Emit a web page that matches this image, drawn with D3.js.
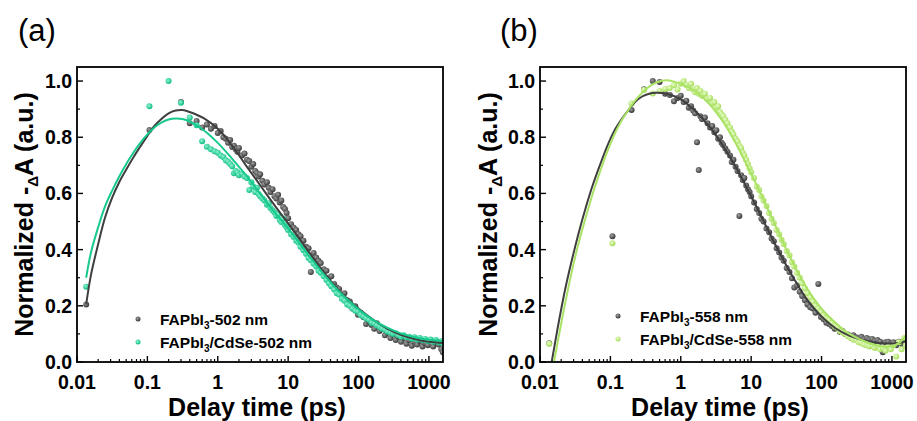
<!DOCTYPE html>
<html>
<head>
<meta charset="utf-8">
<script src="https://cdn.jsdelivr.net/npm/d3@7"></script>
<style>
  body { margin: 0; background: #fff; }
  svg { display: block; font-family: "Liberation Sans", Arial, sans-serif; }
</style>
</head>
<body>
<svg id="chart" width="917" height="421"></svg>
<script>
// ---- measured delays (ps), shared by both series of a panel ----
const times = [0.0135, 0.107, 0.2, 0.3, 0.4, 0.5, 0.6, 0.7, 0.8, 0.9,
  1.0, 1.1, 1.2, 1.3, 1.4, 1.5, 1.6, 1.7, 1.8, 1.9,
  2.0, 2.2, 2.4, 2.6, 2.8, 3.0, 3.2, 3.4, 3.6, 3.8,
  4.0, 4.3, 4.6, 5.0, 5.3, 5.6, 6.0, 6.4, 6.8, 7.2,
  7.6, 8.0, 8.5, 9.0, 9.5, 10, 11, 12, 13, 14,
  15, 16.5, 18, 19.5, 21, 23, 25, 27, 29, 32,
  35, 38, 41, 45, 49, 53, 58, 63, 69, 75,
  82, 90, 98, 107, 117, 128, 140, 153, 167, 182,
  199, 217, 237, 259, 283, 309, 337, 368, 402, 439,
  479, 523, 571, 623, 680, 742, 810, 884, 965, 1053,
  1150, 1255, 1370, 1500, 1580];

// panel (a) 502 nm
const grayA = [0.205, 0.826, null, 0.925, 0.85, 0.858, 0.835, 0.845, 0.83, 0.84,
  0.815, 0.822, 0.80, 0.795, 0.78, 0.79, 0.765, 0.77, 0.757, 0.748,
  0.762, 0.735, 0.742, 0.72, 0.715, 0.695, 0.705, 0.68, 0.672, 0.66,
  0.668, 0.645, 0.632, 0.64, 0.62, 0.605, 0.615, 0.59, 0.582, 0.595,
  0.568, 0.575, 0.552, 0.545, 0.53, 0.512, 0.49, 0.478, 0.47, 0.455,
  0.448, 0.432, 0.41, 0.405, 0.32, 0.388, 0.372, 0.36, 0.352, 0.33,
  0.325, 0.30, 0.305, 0.278, 0.265, 0.26, 0.235, 0.245, 0.22, 0.215,
  0.19, 0.198, 0.168, 0.175, 0.16, 0.135, 0.145, 0.132, 0.118, 0.138,
  0.11, 0.118, 0.095, 0.105, 0.085, 0.098, 0.078, 0.09, 0.072, 0.085,
  0.065, 0.078, 0.058, 0.072, 0.062, 0.075, 0.055, 0.068, 0.06, 0.078,
  0.055, 0.07, 0.062, 0.045, 0.035];
const greenA = [0.268, 0.91, 1.0, 0.923, 0.87, 0.843, 0.786, 0.766, 0.757, 0.75,
  0.745, 0.735, 0.73, 0.718, 0.713, 0.705, 0.697, 0.672, 0.68, 0.675,
  0.665, 0.67, 0.66, 0.655, 0.612, 0.64, 0.625, 0.605, 0.62, 0.598,
  0.59, 0.582, 0.575, 0.56, 0.565, 0.548, 0.54, 0.532, 0.52, 0.525,
  0.505, 0.498, 0.51, 0.488, 0.48, 0.47, 0.455, 0.445, 0.432, 0.425,
  0.41, 0.398, 0.385, 0.37, 0.362, 0.35, 0.34, 0.325, 0.318, 0.305,
  0.292, 0.28, 0.27, 0.258, 0.245, 0.24, 0.225, 0.218, 0.205, 0.20,
  0.19, 0.182, 0.18, 0.168, 0.162, 0.155, 0.15, 0.14, 0.137, 0.13,
  0.125, 0.118, 0.115, 0.108, 0.105, 0.10, 0.102, 0.095, 0.09, 0.095,
  0.088, 0.09, 0.083, 0.088, 0.08, 0.085, 0.078, 0.082, 0.075, 0.08,
  0.072, 0.078, 0.07, 0.074, 0.066];

// panel (b) 558 nm
const grayB = [0.067, 0.448, 0.897, 0.971, 1.0, 0.997, 0.955, 0.95, 0.928, 0.94,
  0.948, 0.925, 0.93, 0.905, 0.91, 0.895, 0.885, 0.782, 0.683, 0.875,
  0.865, 0.87, 0.85, 0.835, 0.84, 0.818, 0.825, 0.795, 0.80, 0.78,
  0.772, 0.76, 0.748, 0.735, 0.712, 0.72, 0.695, 0.68, 0.52, 0.665,
  0.648, 0.655, 0.628, 0.615, 0.605, 0.59, 0.568, 0.545, 0.53, 0.51,
  0.50, 0.475, 0.462, 0.44, 0.43, 0.405, 0.39, 0.372, 0.36, 0.335,
  0.32, 0.298, 0.265, 0.272, 0.25, 0.235, 0.22, 0.205, 0.195, 0.19,
  0.175, 0.278, 0.16, 0.152, 0.14, 0.135, 0.128, 0.118, 0.12, 0.108,
  0.11, 0.10, 0.098, 0.092, 0.095, 0.088, 0.085, 0.09, 0.082, 0.085,
  0.08, 0.082, 0.075, 0.078, 0.072, 0.035, 0.07, 0.072, 0.065, 0.07,
  0.06, 0.072, 0.065, 0.075, 0.068];
const limeB = [0.065, 0.423, 0.92, 0.968, 0.956, 0.965, 0.972, 0.975, 0.985, 0.97,
  0.99, 1.0, 0.985, 0.975, 0.99, 0.97, 0.96, 0.975, 0.955, 0.965,
  0.948, 0.955, 0.935, 0.94, 0.92, 0.925, 0.905, 0.91, 0.89, 0.882,
  0.875, 0.862, 0.85, 0.835, 0.82, 0.81, 0.795, 0.785, 0.77, 0.762,
  0.745, 0.735, 0.72, 0.705, 0.69, 0.675, 0.655, 0.625, 0.612, 0.59,
  0.575, 0.555, 0.53, 0.51, 0.495, 0.47, 0.455, 0.435, 0.42, 0.395,
  0.38, 0.355, 0.34, 0.318, 0.30, 0.28, 0.262, 0.245, 0.23, 0.215,
  0.20, 0.19, 0.178, 0.165, 0.155, 0.15, 0.138, 0.128, 0.122, 0.11,
  0.105, 0.10, 0.092, 0.085, 0.08, 0.078, 0.07, 0.068, 0.062, 0.06,
  0.055, 0.058, 0.05, 0.055, 0.045, 0.05, 0.04, 0.055, 0.045, 0.06,
  0.02, 0.07, 0.045, 0.085, 0.06];

// ---- fitted curves ----
const fitTimesA = [0.0135, 0.0158, 0.02, 0.0251, 0.0316, 0.0398, 0.0501, 0.0631, 0.0794, 0.1,
  0.126, 0.158, 0.2, 0.251, 0.316, 0.398, 0.631, 1, 1.58, 2.51,
  3.98, 6.31, 10, 15.8, 25.1, 39.8, 63.1, 100, 158, 251,
  398, 631, 1000, 1585];
const fitGrayA = [0.205, 0.31, 0.42, 0.515, 0.585, 0.64, 0.685, 0.728, 0.767, 0.805,
  0.84, 0.865, 0.885, 0.895, 0.897, 0.89, 0.868, 0.83, 0.772, 0.70,
  0.63, 0.56, 0.493, 0.425, 0.355, 0.29, 0.235, 0.19, 0.152, 0.12,
  0.097, 0.082, 0.072, 0.068];
const fitGreenA = [0.30, 0.39, 0.48, 0.555, 0.61, 0.66, 0.705, 0.745, 0.78, 0.81,
  0.835, 0.852, 0.863, 0.867, 0.865, 0.856, 0.825, 0.78, 0.725, 0.665,
  0.60, 0.535, 0.475, 0.41, 0.345, 0.285, 0.232, 0.188, 0.152, 0.123,
  0.102, 0.088, 0.079, 0.075];

const fitTimesGrayB = [0.01466, 0.0178, 0.0224, 0.0282, 0.0355, 0.0447, 0.0562, 0.0708, 0.0891, 0.112,
  0.141, 0.178, 0.224, 0.282, 0.355, 0.447, 0.631, 1, 1.58, 2.51,
  3.98, 6.31, 10, 15.8, 25.1, 39.8, 63.1, 100, 158, 251,
  398, 631, 1000, 1259, 1585];
const fitGrayB = [0, 0.12, 0.25, 0.36, 0.46, 0.55, 0.63, 0.70, 0.765, 0.82,
  0.86, 0.895, 0.925, 0.945, 0.955, 0.958, 0.955, 0.935, 0.895, 0.84,
  0.77, 0.685, 0.59, 0.49, 0.39, 0.30, 0.22, 0.162, 0.12, 0.093,
  0.077, 0.068, 0.066, 0.068, 0.075];
const fitTimesLimeB = [0.0158, 0.0178, 0.0224, 0.0282, 0.0355, 0.0447, 0.0562, 0.0708, 0.0891, 0.112,
  0.141, 0.178, 0.224, 0.282, 0.355, 0.447, 0.631, 1, 1.58, 2.51,
  3.98, 6.31, 10, 15.8, 25.1, 39.8, 63.1, 100, 158, 251,
  398, 631, 1000, 1259, 1585];
const fitLimeB = [0, 0.07, 0.20, 0.32, 0.425, 0.515, 0.60, 0.675, 0.745, 0.805,
  0.855, 0.895, 0.93, 0.958, 0.98, 0.995, 1.003, 0.99, 0.965, 0.92,
  0.855, 0.77, 0.67, 0.565, 0.455, 0.35, 0.26, 0.19, 0.14, 0.10,
  0.075, 0.058, 0.056, 0.068, 0.095];

const xTicks = [0.01, 0.1, 1, 10, 100, 1000];
const xTickLabels = ["0.01", "0.1", "1", "10", "100", "1000"];
const yTicks = [0, 0.2, 0.4, 0.6, 0.8, 1.0];

const svg = d3.select('#chart');
const defs = svg.append('defs');

// shaded "ball" markers like the Origin sphere symbol
function ball(id, light, dark) {
  const g = defs.append('radialGradient').attr('id', id)
    .attr('cx', '40%').attr('cy', '38%').attr('r', '60%');
  g.append('stop').attr('offset', '0%').attr('stop-color', light);
  g.append('stop').attr('offset', '100%').attr('stop-color', dark);
}
ball('ballGray', '#a0a0a0', '#3a3a3a');
ball('ballGreen', '#8ff5cf', '#10be86');
ball('ballLime', '#eaffc8', '#a4dc5a');

const colors = {
  gray: {fill: 'url(#ballGray)', line: '#3f3f3f'},
  green: {fill: 'url(#ballGreen)', line: '#17c990'},
  lime: {fill: 'url(#ballLime)', line: '#a9e265'}
};

function drawPanel(p) {
  const x = d3.scaleLog().domain([0.01, 1585]).range([p.left, p.right]);
  const y = d3.scaleLinear().domain([0, 1.05]).range([p.bottom, p.top]);
  const g = svg.append('g');

  g.append('clipPath').attr('id', p.id + 'clip')
    .append('rect')
    .attr('x', p.left).attr('y', p.top)
    .attr('width', p.right - p.left).attr('height', p.bottom - p.top);

  const plot = g.append('g').attr('clip-path', `url(#${p.id}clip)`);

  // points
  p.series.forEach(s => {
    const pts = times.map((t, i) => ({t: t, v: s.values[i]})).filter(d => d.v != null);
    plot.append('g').selectAll('circle')
      .data(pts)
      .join('circle')
      .attr('cx', d => x(d.t))
      .attr('cy', d => y(d.v))
      .attr('r', 3)
      .attr('fill', colors[s.color].fill);
  });

  // fitted lines
  const line = d3.line()
    .x(d => x(d[0]))
    .y(d => y(d[1]))
    .curve(d3.curveCatmullRom.alpha(0.5));
  p.fits.forEach(f => {
    plot.append('path')
      .datum(f.times.map((t, i) => [t, f.values[i]]))
      .attr('fill', 'none')
      .attr('stroke', colors[f.color].line)
      .attr('stroke-width', 2)
      .attr('d', line);
  });

  // frame
  g.append('rect')
    .attr('x', p.left).attr('y', p.top)
    .attr('width', p.right - p.left).attr('height', p.bottom - p.top)
    .attr('fill', 'none').attr('stroke', '#000').attr('stroke-width', 1.8);

  // x ticks (inward)
  const minorX = [];
  xTicks.forEach(d => { for (let k = 2; k <= 9; k++) if (d * k <= 1585) minorX.push(d * k); });
  g.selectAll('.mx').data(minorX).join('line')
    .attr('x1', d => x(d)).attr('x2', d => x(d))
    .attr('y1', p.bottom).attr('y2', p.bottom - 3)
    .attr('stroke', '#000').attr('stroke-width', 1.2);
  g.selectAll('.Mx').data(xTicks).join('line')
    .attr('x1', d => x(d)).attr('x2', d => x(d))
    .attr('y1', p.bottom).attr('y2', p.bottom - 6)
    .attr('stroke', '#000').attr('stroke-width', 1.4);
  g.selectAll('.xl').data(xTicks).join('text')
    .attr('x', d => x(d)).attr('y', p.bottom + 27)
    .attr('text-anchor', 'middle')
    .attr('font-size', 19.5).attr('font-weight', 'bold')
    .text((d, i) => xTickLabels[i]);

  // y ticks (inward)
  const minorY = [0.1, 0.3, 0.5, 0.7, 0.9];
  g.selectAll('.my').data(minorY).join('line')
    .attr('x1', p.left).attr('x2', p.left + 3)
    .attr('y1', d => y(d)).attr('y2', d => y(d))
    .attr('stroke', '#000').attr('stroke-width', 1.2);
  g.selectAll('.My').data(yTicks).join('line')
    .attr('x1', p.left).attr('x2', p.left + 6)
    .attr('y1', d => y(d)).attr('y2', d => y(d))
    .attr('stroke', '#000').attr('stroke-width', 1.4);
  g.selectAll('.yl').data(yTicks).join('text')
    .attr('x', p.left - 5).attr('y', d => y(d) + 7)
    .attr('text-anchor', 'end')
    .attr('font-size', 19.5).attr('font-weight', 'bold')
    .text(d => d.toFixed(1));

  // axis titles
  g.append('text')
    .attr('x', (p.left + p.right) / 2 - 3).attr('y', p.bottom + 54)
    .attr('text-anchor', 'middle')
    .attr('font-size', 25).attr('font-weight', 'bold')
    .text('Delay time (ps)');

  const yt = g.append('text')
    .attr('transform', `translate(${p.left - p.titleGap},${(p.top + p.bottom) / 2}) rotate(-90)`)
    .attr('text-anchor', 'middle')
    .attr('font-size', 25).attr('font-weight', 'bold');
  yt.append('tspan').text('Normalized -');
  yt.append('tspan').attr('font-size', 15).attr('dy', 5).text('\u0394');
  yt.append('tspan').attr('dy', -5).text('A (a.u.)');

  // panel label
  g.append('text')
    .attr('x', p.labelX).attr('y', 41)
    .attr('font-size', 31)
    .text(p.label);

  // legend
  p.series.forEach((s, i) => {
    const ly = p.legendY + i * 23;
    g.append('circle').attr('cx', p.legendX).attr('cy', ly).attr('r', 2.5)
      .attr('fill', colors[s.color].fill);
    const t = g.append('text')
      .attr('x', p.legendX + 22).attr('y', ly + 5.5)
      .attr('font-size', 15.5).attr('font-weight', 'bold');
    t.append('tspan').text(s.name[0]);
    t.append('tspan').attr('font-size', 10).attr('dy', 4).text('3');
    t.append('tspan').attr('dy', -4).text(s.name[1]);
  });
}

drawPanel({
  id: 'a', label: '(a)', labelX: 18, titleGap: 44,
  left: 77, right: 443, top: 67, bottom: 362,
  legendX: 138, legendY: 319,
  series: [
    {values: grayA, color: 'gray', name: ['FAPbI', '-502 nm']},
    {values: greenA, color: 'green', name: ['FAPbI', '/CdSe-502 nm']}
  ],
  fits: [
    {times: fitTimesA, values: fitGrayA, color: 'gray'},
    {times: fitTimesA, values: fitGreenA, color: 'green'}
  ]
});

drawPanel({
  id: 'b', label: '(b)', labelX: 500, titleGap: 43,
  left: 540, right: 906, top: 67, bottom: 362,
  legendX: 618, legendY: 316,
  series: [
    {values: grayB, color: 'gray', name: ['FAPbI', '-558 nm']},
    {values: limeB, color: 'lime', name: ['FAPbI', '/CdSe-558 nm']}
  ],
  fits: [
    {times: fitTimesGrayB, values: fitGrayB, color: 'gray'},
    {times: fitTimesLimeB, values: fitLimeB, color: 'lime'}
  ]
});
</script>
</body>
</html>
